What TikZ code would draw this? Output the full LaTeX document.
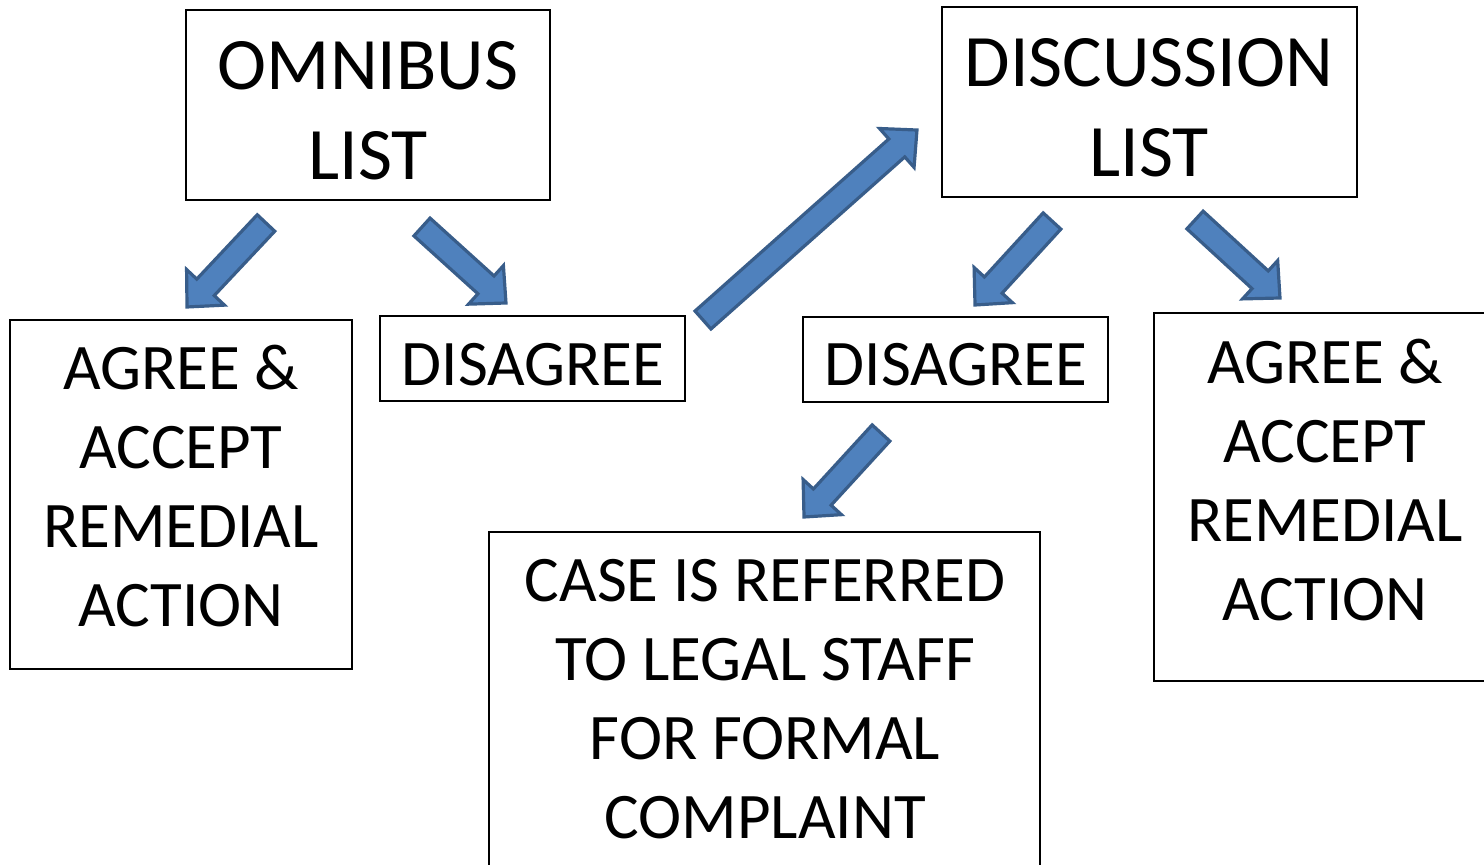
\documentclass[tikz,border=0pt]{standalone}
\usepackage{fontspec}
\setmainfont{Carlito}
\usetikzlibrary{calc}
\definecolor{arrfill}{HTML}{4F81BD}
\definecolor{arrline}{HTML}{385D8A}
\tikzset{
  box/.style={draw=black, line width=1.5pt, fill=white, inner sep=0pt},
  bigtxt/.style={inner sep=0pt, align=center, anchor=north, font=\fontsize{74}{90}\selectfont},
  midtxt/.style={inner sep=0pt, align=center, anchor=north, font=\fontsize{65}{79}\selectfont},
  blockarrow/.style={fill=arrfill, draw=arrline, line width=3.2pt, line join=miter},
}
\newcommand\bluearrow[2]{%
  \path let \p1=($(#2)-(#1)$) in \pgfextra{%
    \pgfmathsetmacro\tmplen{veclen(\x1,\y1)}%
    \pgfmathsetmacro\tmpang{atan2(\y1,\x1)}%
    \global\let\arrlen\tmplen \global\let\arrang\tmpang};
  \begin{scope}[shift={(#1)},rotate=\arrang]
    \draw[blockarrow] (0pt,-12pt) -- (\arrlen pt-27pt,-12pt) -- (\arrlen pt-27pt,-26pt)
      -- (\arrlen pt,0pt) -- (\arrlen pt-27pt,26pt) -- (\arrlen pt-27pt,12pt) -- (0pt,12pt) -- cycle;
  \end{scope}}
\begin{document}
\begin{tikzpicture}[x=1pt,y=-1pt]
\useasboundingbox (0,0) rectangle (1484,865);
\clip (0,0) rectangle (1484,865);
% boxes
\node[box, minimum width=364pt, minimum height=190pt] (omnibox) at (368,105) {};
\node[box, minimum width=415pt, minimum height=190pt] (discbox) at (1149.5,102) {};
\node[box, minimum width=342pt, minimum height=349pt] (aglbox) at (181,494.5) {};
\node[box, minimum width=305pt, minimum height=85pt] (dislbox) at (532.5,358.5) {};
\node[box, minimum width=305pt, minimum height=85pt] (disrbox) at (955.5,359.5) {};
\node[box, minimum width=343pt, minimum height=368pt] (agrbox) at (1325.5,497) {};
\node[box, minimum width=551pt, minimum height=348pt] (casebox) at (764.5,706) {};
% texts
\node[bigtxt] (omnit) at (368,41) {OMNIBUS\\LIST};
\node[bigtxt] (disct) at (1149,38) {DISCUSSION\\LIST};
\node[midtxt] (agl) at (181,345) {AGREE \&\\ACCEPT\\REMEDIAL\\ACTION};
\node[midtxt] (disl) at (533,343) {DISAGREE};
\node[midtxt] (disr) at (956,343) {DISAGREE};
\node[midtxt] (agr) at (1325,339) {AGREE \&\\ACCEPT\\REMEDIAL\\ACTION};
\node[midtxt] (case) at (765,559) {CASE IS REFERRED\\TO LEGAL STAFF\\FOR FORMAL\\COMPLAINT};
% arrow end points
\coordinate (a1t) at (266,223); \coordinate (a1h) at (187,307);
\coordinate (a2t) at (422,227); \coordinate (a2h) at (506,303);
\coordinate (a3t) at (703,320); \coordinate (a3h) at (917,130);
\coordinate (a4t) at (1052,221); \coordinate (a4h) at (975,305);
\coordinate (a5t) at (1195,220); \coordinate (a5h) at (1280,298);
\coordinate (a6t) at (881,433); \coordinate (a6h) at (804,517);
\bluearrow{a1t}{a1h}
\bluearrow{a2t}{a2h}
\bluearrow{a3t}{a3h}
\bluearrow{a4t}{a4h}
\bluearrow{a5t}{a5h}
\bluearrow{a6t}{a6h}
\end{tikzpicture}
\end{document}
